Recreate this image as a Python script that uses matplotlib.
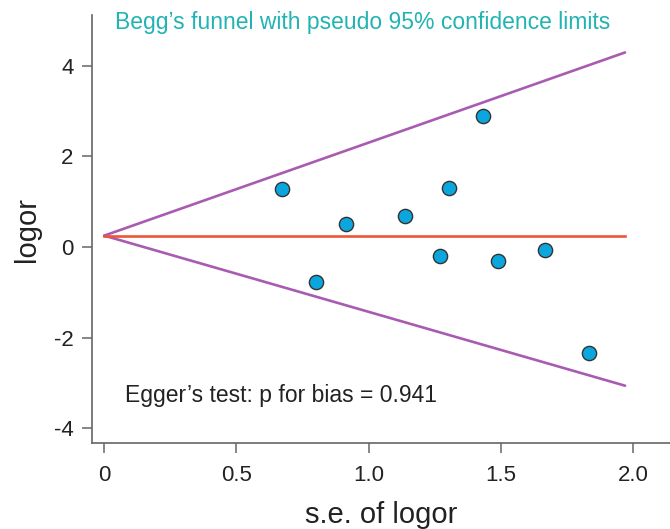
import matplotlib.pyplot as plt

plt.rcParams['font.family'] = ['Liberation Sans', 'DejaVu Sans']
plt.rcParams['axes.unicode_minus'] = False

# study estimates
se_logor = [0.673, 0.801, 0.915, 1.136, 1.269, 1.305, 1.432, 1.488, 1.667, 1.832]
logor = [1.28, -0.78, 0.51, 0.69, -0.20, 1.29, 2.89, -0.30, -0.07, -2.34]

# pooled estimate and pseudo 95% limits (ends of the funnel lines)
funnel_se = [0, 1.97]
pooled = [0.25, 0.25]
upper_limit = [0.25, 4.29]
lower_limit = [0.25, -3.06]

x_ticks = [0, 0.5, 1.0, 1.5, 2.0]
x_tick_labels = ["0", "0.5", "1.0", "1.5", "2.0"]
y_ticks = [-4, -2, 0, 2, 4]

fig = plt.figure(figsize=(6.7, 5.29), dpi=100)
ax = fig.add_axes([0.1378, 0.162, 0.8622, 0.81])

ax.plot(funnel_se, upper_limit, color='#A95BB2', linewidth=1.9, solid_capstyle='round')
ax.plot(funnel_se, lower_limit, color='#A95BB2', linewidth=1.9, solid_capstyle='round')
ax.plot(funnel_se, pooled, color='#EE5535', linewidth=1.9)
ax.scatter(se_logor, logor, s=105, color='#0AA6DD', edgecolor='#333333',
           linewidth=1.0, zorder=3)

ax.set_xlim(-0.045, 2.14)
ax.set_ylim(-4.33, 5.12)
ax.set_xticks(x_ticks)
ax.set_xticklabels(x_tick_labels)
ax.set_yticks(y_ticks)

for side in ['top', 'right']:
    ax.spines[side].set_visible(False)
for side in ['left', 'bottom']:
    ax.spines[side].set_color('#666666')
    ax.spines[side].set_linewidth(1.2)
ax.tick_params(length=7, width=1.1, color='#666666', labelsize=16,
               labelcolor='#222222')
ax.tick_params(axis='x', pad=8.5)
ax.tick_params(axis='y', pad=6.5)

ax.set_xlabel("s.e. of logor", fontsize=21, color='#222222', va='center')
ax.set_ylabel("logor", fontsize=21, color='#222222', va='center')
ax.xaxis.set_label_coords(0.5, -0.167)
ax.yaxis.set_label_coords(-0.113, 0.5)

ax.text(0.04, 4.95, "Begg\u2019s funnel with pseudo 95% confidence limits",
        fontsize=16.5, color='#22B3B3', va='center', ha='left')
ax.text(0.077, -3.27, "Egger\u2019s test: p for bias = 0.941",
        fontsize=16.5, color='#222222', va='center', ha='left')

fig.savefig("out.png", dpi=100)
